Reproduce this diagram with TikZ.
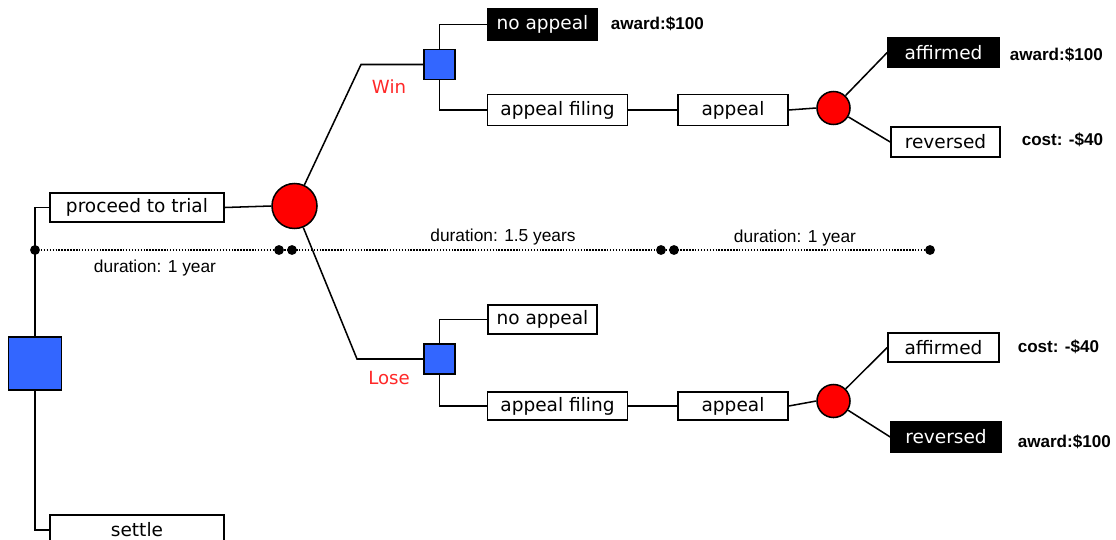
\documentclass[tikz,border=0pt]{standalone}
\usepackage{fontspec}
\setmainfont{DejaVu Sans}
\newfontfamily\arialfont{Liberation Sans}
\definecolor{decblue}{RGB}{51,102,255}
\definecolor{chancered}{RGB}{255,0,0}
\definecolor{labelred}{RGB}{255,40,40}

\begin{document}
\begin{tikzpicture}[x=0.75pt,y=-0.75pt,
  line width=1.15pt,
  boxtxt/.style={font=\fontsize{13.9}{16}\selectfont},
  wh/.style 2 args={minimum width=#1*0.75pt, minimum height=#2*0.75pt},
  optbox/.style={draw, fill=white, inner sep=0pt, boxtxt},
  outbox/.style={draw, fill=black, text=white, inner sep=0pt, boxtxt},
  decision/.style={draw, fill=decblue, inner sep=0pt},
  chance/.style={circle, draw, fill=chancered, inner sep=0pt},
  payoff/.style={anchor=west, inner sep=0pt, font=\arialfont\bfseries\fontsize{12.8}{14}\selectfont},
  durtxt/.style={inner sep=0pt, font=\arialfont\fontsize{13}{15}\selectfont},
  branchtxt/.style={inner sep=0pt, text=labelred, font=\fontsize{13.6}{15}\selectfont},
  tick/.style={circle, fill=black, inner sep=0pt, minimum size=7.4pt},
  timeline/.style={line width=1.2pt, dash pattern=on 1.1pt off 1.1pt}
]
\clip (0,0) rectangle (1116,539);
\useasboundingbox (0,0) rectangle (1116,539);

% root decision and its two options
\node[decision, wh={53}{53}] (root) at (35,363.5) {};
\node[optbox, wh={174}{29}] (trial) at (137,207.5) {proceed to trial};
\node[optbox, wh={174}{30}] (settle) at (137,530) {\raisebox{1.5pt}{settle}};
\node[chance, minimum size=45*0.75pt] (verdict) at (294.5,206) {};

% time line
\node[tick] (t1) at (35,250) {};
\node[tick] (t2) at (279,250) {};
\node[tick] (t3) at (292,250) {};
\node[tick] (t4) at (661,250) {};
\node[tick] (t5) at (674,250) {};
\node[tick] (t6) at (930,250) {};
\draw[timeline] (t1.center) -- (t6.center);
\node[durtxt] (dur1) at (155,268) {duration: 1 year};
\node[durtxt] (dur2) at (503,237) {duration: 1.5 years};
\node[durtxt] (dur3) at (795,238) {duration: 1 year};

% win branch
\coordinate (wincorner) at (361,64.5);
\node[decision, wh={31}{30}] (decW) at (439.5,64.5) {};
\node[branchtxt] (win) at (389,87) {Win};
\node[outbox, wh={109}{31}] (noappW) at (542.5,24.5) {no appeal};
\node[payoff] (payNoappW) at (610,24) {award:\$100};
\node[optbox, wh={140}{31}] (fileW) at (557.5,110) {appeal filing};
\node[optbox, wh={110}{31}] (appealW) at (733,110) {appeal};
\node[chance, minimum size=33*0.75pt] (courtW) at (833.5,108) {};
\node[outbox, wh={111}{29}] (affW) at (943.5,52.5) {affirmed};
\node[optbox, wh={109}{30}] (revW) at (945.5,142) {reversed};
\node[payoff] (payAffW) at (1009,55) {award:\$100};
\node[payoff] (payRevW) at (1021,140) {cost: -\$40};

% lose branch
\coordinate (losecorner) at (357,359);
\node[decision, wh={31}{30}] (decL) at (439.5,359) {};
\node[branchtxt] (lose) at (389,378) {Lose};
\node[optbox, wh={109}{29}] (noappL) at (542.5,319.5) {no appeal};
\node[optbox, wh={140}{28}] (fileL) at (557.5,406) {appeal filing};
\node[optbox, wh={110}{28}] (appealL) at (733,406) {appeal};
\node[chance, minimum size=33*0.75pt] (courtL) at (833.5,401) {};
\node[optbox, wh={111}{29}] (affL) at (943.5,347.5) {affirmed};
\node[outbox, wh={110}{30}] (revL) at (946,437) {reversed};
\node[payoff] (payAffL) at (1017,347) {cost: -\$40};
\node[payoff] (payRevL) at (1017,442) {award:\$100};

% connectors
\draw (root.north) |- (trial.west);
\draw (root.south) |- (settle.west);
\draw (trial.east) -- (verdict.west);
\draw (verdict) -- (wincorner) -- (decW.west);
\draw (verdict) -- (losecorner) -- (decL.west);

\draw (decW.north) |- (noappW.west);
\draw (decW.south) |- (fileW.west);
\draw (fileW.east) -- (appealW.west);
\draw (appealW.east) -- (courtW.west);
\draw (courtW) -- (affW.west);
\draw (courtW) -- (revW.west);

\draw (decL.north) |- (noappL.west);
\draw (decL.south) |- (fileL.west);
\draw (fileL.east) -- (appealL.west);
\draw (appealL.east) -- (courtL.west);
\draw (courtL) -- (affL.west);
\draw (courtL) -- (revL.west);
\end{tikzpicture}
\end{document}
